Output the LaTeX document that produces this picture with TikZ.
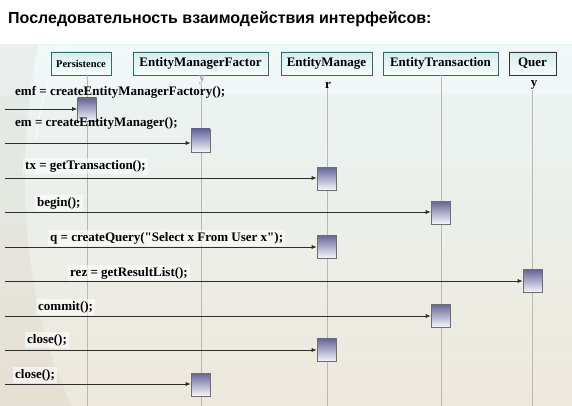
\documentclass[tikz,border=0pt]{standalone}
\usepackage{fontspec}
\setmainfont{Liberation Serif}[Ligatures=TeXOff]
\newfontfamily\titlefont{Liberation Sans}
\usetikzlibrary{arrows.meta,shadows}
\definecolor{hdrborder}{RGB}{46,107,110}
\definecolor{hdrtop}{RGB}{214,238,238}
\definecolor{hdrbot}{RGB}{246,251,251}
\definecolor{acttop}{RGB}{100,100,152}
\definecolor{actbot}{RGB}{246,246,252}
\definecolor{actborder}{RGB}{110,110,110}
\definecolor{msgcol}{RGB}{45,45,45}
\definecolor{lifecol}{RGB}{185,185,178}
\definecolor{bgtop}{RGB}{234,245,245}
\definecolor{bgbot}{RGB}{237,232,220}
\begin{document}
\begin{tikzpicture}[x=1pt,y=-1pt,
  hdr/.style={draw=hdrborder, line width=0.8pt, top color=hdrtop, bottom color=hdrbot,
    inner sep=0pt, minimum height=23pt, font=\bfseries\fontsize{13}{13}\selectfont,
    drop shadow={opacity=0.25, shadow xshift=1.2pt, shadow yshift=-1.2pt}},
  act/.style={draw=actborder, line width=0.6pt, top color=acttop, bottom color=actbot,
    minimum width=19pt, minimum height=23pt, inner sep=0pt},
  msg/.style={draw=msgcol, line width=0.7pt, -{Latex[length=5pt,width=4pt]}},
  lbl/.style={fill=white, fill opacity=0.55, text opacity=1, anchor=west,
    font=\bfseries\fontsize{13}{13}\selectfont, inner sep=2pt},
  life/.style={draw=lifecol, line width=0.8pt},
  tail/.style={font=\bfseries\fontsize{13}{13}\selectfont, inner sep=0pt}
]
\useasboundingbox (0,0) rectangle (572,406);
\fill[white] (0,0) rectangle (572,406);
% background
\shade[top color=bgtop, bottom color=bgbot] (0,45) rectangle (572,406);
\fill[white, opacity=0.35] (0,45) rectangle (572,95);
\fill[black!40!brown, opacity=0.05] (0,45) -- (38,45) .. controls (15,160) and (20,300) .. (72,406) -- (0,406) -- cycle;
\draw[white, line width=1.2pt, opacity=0.7] (65,45) .. controls (45,80) and (40,110) .. (36,140);
% title
\node[anchor=west, inner sep=0pt, font=\titlefont\bfseries\fontsize{16}{16}\selectfont] (title) at (8,19) {Последовательность взаимодействия интерфейсов:};
% headers
\node[hdr, minimum width=60pt, font=\bfseries\fontsize{10.4}{11}\selectfont] (hP) at (81,63.5) {Persistence};
\node[hdr, minimum width=135pt] (hF) at (200.5,63.5) {EntityManagerFactor};
\node[hdr, minimum width=91pt] (hM) at (326.5,63.5) {EntityManage};
\node[hdr, minimum width=115pt] (hT) at (440.5,63.5) {EntityTransaction};
\node[hdr, minimum width=47pt, draw=black!80] (hQ) at (532.5,63.5) {Quer};
\node[tail, text=black!35] (tF) at (202,79.5) {y};
\node[tail] (tM) at (328,85) {r};
\node[tail] (tQ) at (534,85) {y};
% lifeline ends
\coordinate (eP) at (87,406);
\coordinate (eF) at (201,406);
\coordinate (eM) at (327,406);
\coordinate (eT) at (441,406);
\coordinate (eQ) at (532.5,406);
\draw[life] (hP.south -| eP) -- (eP);
\draw[life] (tF.south -| eF) -- (eF);
\draw[life] (tM.south -| eM) -- (eM);
\draw[life] (hT.south -| eT) -- (eT);
\draw[life] (tQ.south -| eQ) -- (eQ);
% activations
\node[act] (a1) at (87,109.5) {};
\node[act] (a2) at (200.5,140.5) {};
\node[act] (a3) at (326.5,178.5) {};
\node[act] (a4) at (440.5,212.5) {};
\node[act] (a5) at (326.5,246.5) {};
\node[act] (a6) at (532.5,281) {};
\node[act] (a7) at (440.5,315.5) {};
\node[act] (a8) at (326.5,350) {};
\node[act] (a9) at (200.5,384.5) {};
% message starts
\coordinate (s1) at (5,109);
\coordinate (s2) at (5,143);
\coordinate (s3) at (5,178);
\coordinate (s4) at (5,212);
\coordinate (s5) at (5,247);
\coordinate (s6) at (5,281);
\coordinate (s7) at (5,316);
\coordinate (s8) at (5,350);
\coordinate (s9) at (5,384);
\draw[msg] (s1) -- (s1 -| a1.west);
\draw[msg] (s2) -- (s2 -| a2.west);
\draw[msg] (s3) -- (s3 -| a3.west);
\draw[msg] (s4) -- (s4 -| a4.west);
\draw[msg] (s5) -- (s5 -| a5.west);
\draw[msg] (s6) -- (s6 -| a6.west);
\draw[msg] (s7) -- (s7 -| a7.west);
\draw[msg] (s8) -- (s8 -| a8.west);
\draw[msg] (s9) -- (s9 -| a9.west);
% labels
\node[lbl, fill opacity=0, inner sep=1pt] (l1) at (14,92) {emf = createEntityManagerFactory();};
\node[lbl, fill opacity=0] (l2) at (13,123) {em = createEntityManager();};
\node[lbl] (l3) at (23,166) {tx = getTransaction();};
\node[lbl] (l4) at (35,203) {begin();};
\node[lbl] (l5) at (48,238) {q = createQuery("Select x From User x");};
\node[lbl] (l6) at (68,273) {rez = getResultList();};
\node[lbl] (l7) at (36,307) {commit();};
\node[lbl] (l8) at (25,340) {close();};
\node[lbl] (l9) at (13,375) {close();};
\end{tikzpicture}
\end{document}
